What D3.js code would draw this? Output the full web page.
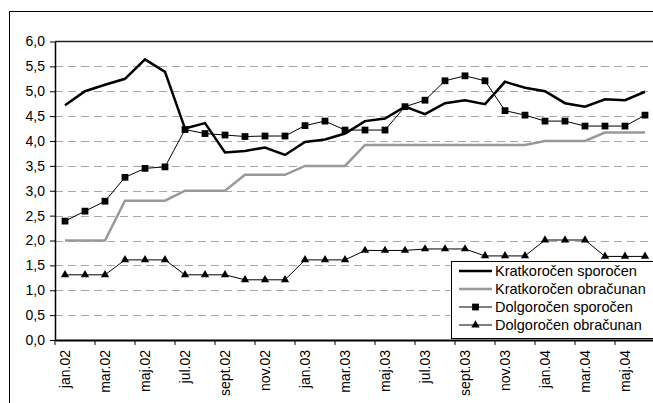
<!DOCTYPE html>
<html>
<head>
<meta charset="utf-8">
<script src="https://cdn.jsdelivr.net/npm/d3@7/dist/d3.min.js"></script>
<style>
  html, body { margin: 0; padding: 0; background: #fff; }
  svg { display: block; font-family: "Liberation Sans", Arial, sans-serif; }
</style>
</head>
<body>
<svg id="chart" width="653" height="403"></svg>
<script>
// Months, January 2002 to June 2004
const months = ["jan.02","feb.02","mar.02","apr.02","maj.02","jun.02","jul.02","avg.02","sept.02","okt.02","nov.02","dec.02",
                "jan.03","feb.03","mar.03","apr.03","maj.03","jun.03","jul.03","avg.03","sept.03","okt.03","nov.03","dec.03",
                "jan.04","feb.04","mar.04","apr.04","maj.04","jun.04"];

const kratkorocenSporocen = [4.72, 5.00, 5.13, 5.25, 5.64, 5.39, 4.25, 4.36, 3.77, 3.80, 3.87, 3.72,
                             3.98, 4.03, 4.15, 4.40, 4.45, 4.69, 4.54, 4.76, 4.82, 4.74, 5.19, 5.07,
                             5.00, 4.76, 4.69, 4.84, 4.82, 4.99];
const kratkorocenObracunan = [2.00, 2.00, 2.00, 2.80, 2.80, 2.80, 3.00, 3.00, 3.00, 3.32, 3.32, 3.32,
                              3.50, 3.50, 3.50, 3.92, 3.92, 3.92, 3.92, 3.92, 3.92, 3.92, 3.92, 3.92,
                              4.00, 4.00, 4.00, 4.17, 4.17, 4.17];
const dolgorocenSporocen = [2.39, 2.59, 2.79, 3.27, 3.45, 3.48, 4.23, 4.15, 4.12, 4.09, 4.10, 4.10,
                            4.31, 4.40, 4.22, 4.22, 4.22, 4.69, 4.82, 5.21, 5.31, 5.21, 4.61, 4.52,
                            4.40, 4.40, 4.30, 4.30, 4.30, 4.52];
const dolgorocenObracunan = [1.31, 1.31, 1.31, 1.61, 1.61, 1.61, 1.31, 1.31, 1.31, 1.21, 1.21, 1.21,
                             1.61, 1.61, 1.61, 1.80, 1.80, 1.80, 1.83, 1.83, 1.83, 1.69, 1.69, 1.69,
                             2.01, 2.01, 2.01, 1.68, 1.68, 1.68];

const seriesNames = ["Kratkoročen sporočen", "Kratkoročen obračunan", "Dolgoročen sporočen", "Dolgoročen obračunan"];
const yTicks = [0, 0.5, 1, 1.5, 2, 2.5, 3, 3.5, 4, 4.5, 5, 5.5, 6];

const series = [
  { name: seriesNames[0], values: kratkorocenSporocen, stroke: "#000", width: 2.5, marker: null },
  { name: seriesNames[1], values: kratkorocenObracunan, stroke: "#999", width: 2.5, marker: null },
  { name: seriesNames[2], values: dolgorocenSporocen, stroke: "#000", width: 1, marker: d3.symbolSquare, size: 46 },
  { name: seriesNames[3], values: dolgorocenObracunan, stroke: "#000", width: 1, marker: d3.symbolTriangle, size: 30 }
];

const svg = d3.select("#chart");
const plot = { left: 55, top: 41.5, bottom: 340 };
plot.right = plot.left + months.length * 20;

const x = d3.scaleBand().domain(months).range([plot.left, plot.right]).padding(0);
const y = d3.scaleLinear().domain([0, 6]).range([plot.bottom, plot.top]);
const sl = d3.formatLocale({ decimal: ",", thousands: ".", grouping: [3], currency: ["", " €"] });
const fmt = sl.format(".1f");

// outer chart frame
svg.append("rect").attr("x", 9.5).attr("y", 11.5).attr("width", 700).attr("height", 420)
  .attr("fill", "#fff").attr("stroke", "#000").attr("stroke-width", 1);

// dashed horizontal gridlines
svg.append("g").selectAll("line").data(yTicks.filter(d => d > 0 && d < 6)).join("line")
  .attr("x1", plot.left).attr("x2", plot.right)
  .attr("y1", d => Math.round(y(d)) + 0.5).attr("y2", d => Math.round(y(d)) + 0.5)
  .attr("stroke", "#a6a6a6").attr("stroke-width", 1).attr("stroke-dasharray", "8,5");

// plot area top border
svg.append("line").attr("x1", plot.left).attr("x2", plot.right + 10)
  .attr("y1", plot.top).attr("y2", plot.top).attr("stroke", "#222").attr("stroke-width", 1.5);

// y axis
const yAxis = svg.append("g").attr("transform", `translate(${plot.left},0)`)
  .call(d3.axisLeft(y).tickValues(yTicks).tickFormat(fmt).tickSize(5).tickPadding(5).tickSizeOuter(0));
yAxis.select(".domain").attr("stroke", "#000").attr("stroke-width", 1.5);
yAxis.selectAll(".tick line").attr("stroke", "#000");
yAxis.selectAll(".tick text").attr("font-size", 14).attr("fill", "#000")
  .attr("font-family", "'Liberation Sans', Arial, sans-serif");

// x axis: labels at every second month, ticks on band boundaries
const bw = x.bandwidth();
const xAxis = svg.append("g").attr("transform", `translate(0,${plot.bottom})`)
  .call(d3.axisBottom(x).tickValues(months.filter((d, i) => i % 2 === 0)).tickSize(5).tickSizeOuter(0));
xAxis.select(".domain").attr("stroke", "#000").attr("stroke-width", 2);
xAxis.selectAll(".tick line").attr("stroke", "#000").attr("transform", `translate(${-bw / 2},0)`);
xAxis.selectAll(".tick text")
  .attr("font-size", 14).attr("fill", "#000")
  .attr("font-family", "'Liberation Sans', Arial, sans-serif")
  .attr("transform", "rotate(-90)")
  .attr("text-anchor", "end")
  .attr("x", -10).attr("y", 0).attr("dy", "0.35em");

// series lines and markers
const line = d3.line().x((d, i) => x(months[i]) + bw / 2).y(d => y(d));
series.forEach(s => {
  svg.append("path").datum(s.values).attr("d", line)
    .attr("fill", "none").attr("stroke", s.stroke).attr("stroke-width", s.width)
    .attr("stroke-linejoin", "miter");
  if (s.marker) {
    svg.append("g").selectAll("path").data(s.values).join("path")
      .attr("transform", (d, i) => `translate(${x(months[i]) + bw / 2},${y(d)})`)
      .attr("d", d3.symbol().type(s.marker).size(s.size))
      .attr("fill", "#000");
  }
});

// legend
const lg = svg.append("g").attr("transform", "translate(451,261)");
lg.append("rect").attr("x", 0.5).attr("y", 0.5).attr("width", 260).attr("height", 77)
  .attr("fill", "#fff").attr("stroke", "#000").attr("stroke-width", 1);
series.forEach((s, i) => {
  const cy = 10 + i * 18;
  lg.append("line").attr("x1", 8).attr("x2", 41).attr("y1", cy).attr("y2", cy)
    .attr("stroke", s.stroke).attr("stroke-width", s.marker ? 1 : 2.5);
  if (s.marker) {
    lg.append("path").attr("transform", `translate(24.5,${cy})`)
      .attr("d", d3.symbol().type(s.marker).size(s.size)).attr("fill", "#000");
  }
  lg.append("text").attr("x", 44).attr("y", cy).attr("dy", "0.36em")
    .attr("font-size", 14.5).attr("fill", "#000").text(s.name);
});
</script>
</body>
</html>
